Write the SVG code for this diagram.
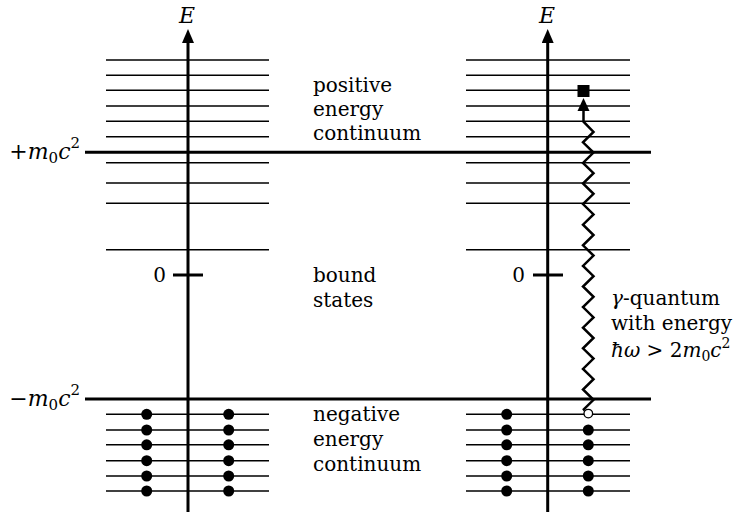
<svg xmlns="http://www.w3.org/2000/svg" width="738" height="512" viewBox="0 0 738 512">
<style>
text{font-family:"DejaVu Serif","Liberation Serif",serif;font-size:20px;fill:#000}
.it{font-style:italic}
.sm{font-size:14px}
.big{font-size:22px}
.big .sm{font-size:15px}
.lvl{stroke:#000;stroke-width:1.5}
.thick{stroke:#000;stroke-width:3}
.axis{stroke:#000;stroke-width:3}
.dot{fill:#000}
</style>
<defs>
<marker id="ah" markerUnits="userSpaceOnUse" markerWidth="14" markerHeight="12" refX="8" refY="6" orient="auto" viewBox="0 0 14 12">
<path d="M0,0 L14,6 L0,12 z" fill="#000"/>
</marker>
</defs>
<rect width="738" height="512" fill="#fff"/>

<g id="thresholds">
<line class="thick" x1="85" y1="152.3" x2="651" y2="152.3"/>
<line class="thick" x1="85" y1="399" x2="651" y2="399"/>
</g>

<g id="left-panel">
<g class="lvl">
<line x1="106" y1="60" x2="269" y2="60"/>
<line x1="106" y1="75.3" x2="269" y2="75.3"/>
<line x1="106" y1="90.3" x2="269" y2="90.3"/>
<line x1="106" y1="106" x2="269" y2="106"/>
<line x1="106" y1="121.3" x2="269" y2="121.3"/>
<line x1="106" y1="136.7" x2="269" y2="136.7"/>
<line x1="106" y1="162.7" x2="269" y2="162.7"/>
<line x1="106" y1="183" x2="269" y2="183"/>
<line x1="106" y1="203.3" x2="269" y2="203.3"/>
<line x1="106" y1="249.7" x2="269" y2="249.7"/>
<line x1="106" y1="414.3" x2="269" y2="414.3"/>
<line x1="106" y1="430" x2="269" y2="430"/>
<line x1="106" y1="444.8" x2="269" y2="444.8"/>
<line x1="106" y1="460.7" x2="269" y2="460.7"/>
<line x1="106" y1="476" x2="269" y2="476"/>
<line x1="106" y1="491" x2="269" y2="491"/>
</g>
<line class="axis" x1="188" y1="512" x2="188" y2="35" marker-end="url(#ah)"/>
<line class="thick" x1="173" y1="275" x2="203" y2="275"/>
<g class="dot">
<circle cx="146.7" cy="414.3" r="5.5"/><circle cx="146.7" cy="430" r="5.5"/><circle cx="146.7" cy="444.8" r="5.5"/><circle cx="146.7" cy="460.7" r="5.5"/><circle cx="146.7" cy="476" r="5.5"/><circle cx="146.7" cy="491" r="5.5"/>
<circle cx="228.7" cy="414.3" r="5.5"/><circle cx="228.7" cy="430" r="5.5"/><circle cx="228.7" cy="444.8" r="5.5"/><circle cx="228.7" cy="460.7" r="5.5"/><circle cx="228.7" cy="476" r="5.5"/><circle cx="228.7" cy="491" r="5.5"/>
</g>
<text class="it big" x="187" y="23" text-anchor="middle">E</text>
<text x="166" y="282" text-anchor="end">0</text>
</g>

<g id="right-panel">
<g class="lvl">
<line x1="466" y1="60" x2="630" y2="60"/>
<line x1="466" y1="75.3" x2="630" y2="75.3"/>
<line x1="466" y1="90.3" x2="630" y2="90.3"/>
<line x1="466" y1="106" x2="630" y2="106"/>
<line x1="466" y1="121.3" x2="630" y2="121.3"/>
<line x1="466" y1="136.7" x2="630" y2="136.7"/>
<line x1="466" y1="162.7" x2="630" y2="162.7"/>
<line x1="466" y1="183" x2="630" y2="183"/>
<line x1="466" y1="203.3" x2="630" y2="203.3"/>
<line x1="466" y1="249.7" x2="630" y2="249.7"/>
<line x1="466" y1="414.3" x2="630" y2="414.3"/>
<line x1="466" y1="430" x2="630" y2="430"/>
<line x1="466" y1="444.8" x2="630" y2="444.8"/>
<line x1="466" y1="460.7" x2="630" y2="460.7"/>
<line x1="466" y1="476" x2="630" y2="476"/>
<line x1="466" y1="491" x2="630" y2="491"/>
</g>
<line class="axis" x1="547.7" y1="512" x2="547.7" y2="35" marker-end="url(#ah)"/>
<line class="thick" x1="533" y1="275" x2="563" y2="275"/>
<g class="dot">
<circle cx="506.7" cy="414.3" r="5.5"/><circle cx="506.7" cy="430" r="5.5"/><circle cx="506.7" cy="444.8" r="5.5"/><circle cx="506.7" cy="460.7" r="5.5"/><circle cx="506.7" cy="476" r="5.5"/><circle cx="506.7" cy="491" r="5.5"/>
<circle cx="588.3" cy="430" r="5.5"/><circle cx="588.3" cy="444.8" r="5.5"/><circle cx="588.3" cy="460.7" r="5.5"/><circle cx="588.3" cy="476" r="5.5"/><circle cx="588.3" cy="491" r="5.5"/>
</g>
<circle id="hole" cx="588.3" cy="413.6" r="4.3" fill="#fff" stroke="#000" stroke-width="1.3"/>
<rect id="electron" x="577.5" y="85" width="12" height="12" fill="#000"/>
<text class="it big" x="547" y="23" text-anchor="middle">E</text>
<text x="525" y="282" text-anchor="end">0</text>
</g>

<g id="connectors">
<polyline fill="none" stroke="#000" stroke-width="2.5" stroke-linejoin="miter" points="584.8,409 583,410.1 593.5,399.8 583,389.5 593.5,379.2 583,368.9 593.5,358.6 583,348.3 593.5,338 583,327.7 593.5,317.4 583,307.1 593.5,296.8 583,286.5 593.5,276.2 583,265.9 593.5,255.6 583,245.3 593.5,235 583,224.7 593.5,214.4 583,204.1 593.5,193.8 583,183.5 593.5,173.2 583,162.9 593.5,152.6 583,142.3 593.5,132 583.5,121.7 583.5,110"/>
<polygon points="583.5,98 577.5,111 589.5,111" fill="#000"/>
</g>

<g id="labels">
<text class="big" x="80" y="159" text-anchor="end">+<tspan class="it">m</tspan><tspan class="sm" dy="4">0</tspan><tspan class="it" dy="-4">c</tspan><tspan class="sm" dy="-11">2</tspan></text>
<text class="big" x="80" y="406" text-anchor="end">−<tspan class="it">m</tspan><tspan class="sm" dy="4">0</tspan><tspan class="it" dy="-4">c</tspan><tspan class="sm" dy="-11">2</tspan></text>
<text x="313" y="92">positive</text>
<text x="313" y="116">energy</text>
<text x="313" y="140">continuum</text>
<text x="313" y="282">bound</text>
<text x="313" y="307">states</text>
<text x="313" y="421">negative</text>
<text x="313" y="446">energy</text>
<text x="313" y="471">continuum</text>
<text x="611" y="305"><tspan class="it">γ</tspan>-quantum</text>
<text x="611" y="330">with energy</text>
<text x="611" y="357"><tspan class="it">ħω</tspan> &gt; 2<tspan class="it">m</tspan><tspan class="sm" dy="4">0</tspan><tspan class="it" dy="-4">c</tspan><tspan class="sm" dy="-9">2</tspan></text>
</g>
</svg>
